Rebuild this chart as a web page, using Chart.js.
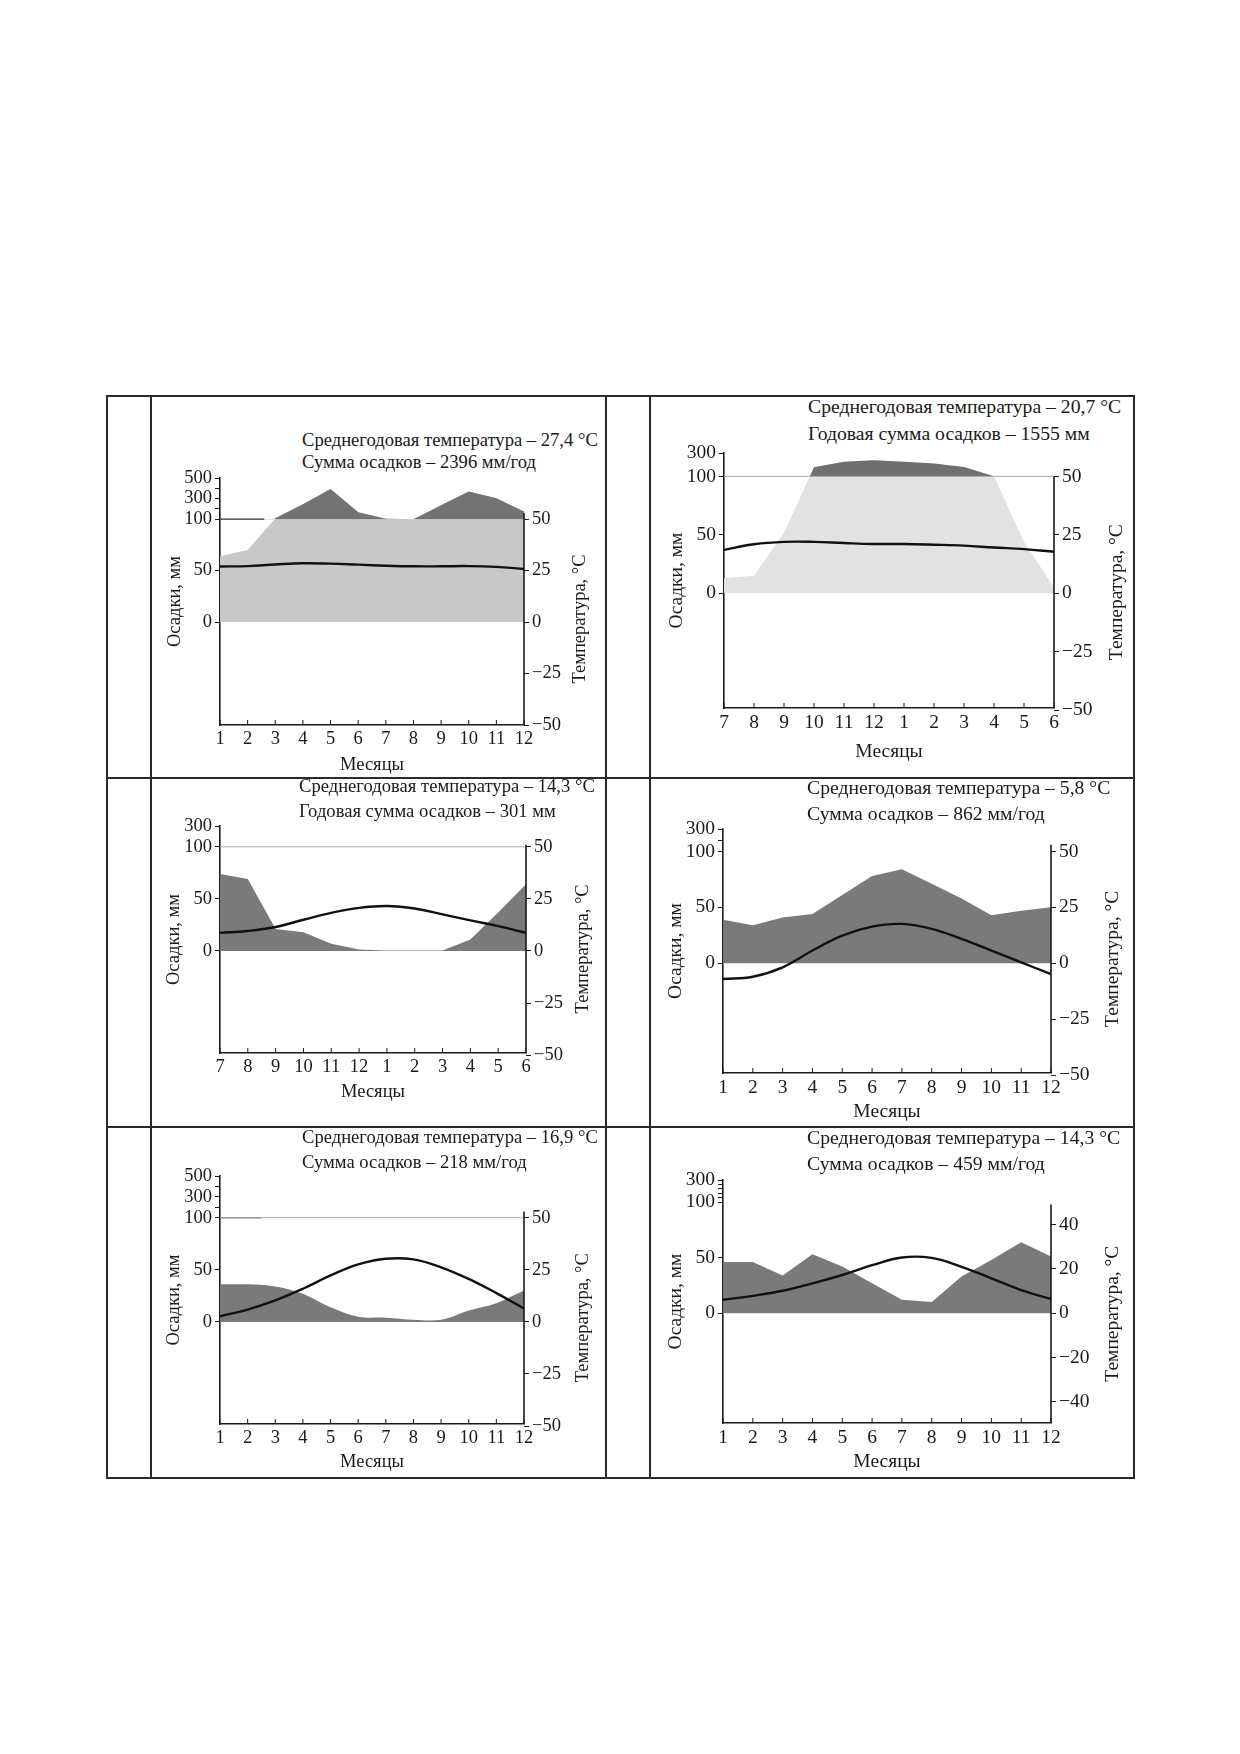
<!DOCTYPE html>
<html lang="ru">
<head>
<meta charset="utf-8">
<title>Климатограммы</title>
<script src="https://cdn.jsdelivr.net/npm/chart.js@4.4.1/dist/chart.umd.min.js"></script>
<style>
  html, body { margin: 0; padding: 0; background: #fff; }
  body { width: 1240px; height: 1754px; position: relative; font-family: 'Liberation Serif', 'Times New Roman', serif; color: #1a1a1a; }
  .rule { position: absolute; background: #2a2a2a; }
  .cap { position: absolute; white-space: nowrap; line-height: 24px; }
  canvas { position: absolute; }
</style>
</head>
<body>
<script>
// месяцы по оси X
var monthsJan = ['1', '2', '3', '4', '5', '6', '7', '8', '9', '10', '11', '12'];
var monthsJul = ['7', '8', '9', '10', '11', '12', '1', '2', '3', '4', '5', '6'];

// подписи шкал
var mmTicks500 = [0, 50, 100, 300, 500];
var mmTicks300 = [0, 50, 100, 300];
var tempTicks25 = [-50, -25, 0, 25, 50];
var tempTicks20 = [-40, -20, 0, 20, 40];

// 1: экваториальный
var caption1 = ['Среднегодовая температура – 27,4 °C', 'Сумма осадков – 2396 мм/год'];
var precip1 = [64, 70, 110, 246, 394, 168, 105, 100, 235, 369, 304, 174];
var temp1 = [27.0, 27.2, 28.0, 28.6, 28.4, 27.9, 27.4, 27.1, 27.1, 27.2, 26.8, 25.8];

// 2: с июля по июнь
var caption2 = ['Среднегодовая температура – 20,7 °C', 'Годовая сумма осадков – 1555 мм'];
var precip2 = [13, 15, 52, 178, 225, 238, 225, 210, 180, 102, 44, 5];
var temp2 = [18.6, 21.0, 22.0, 22.0, 21.5, 21.1, 21.1, 20.8, 20.4, 19.6, 18.9, 17.8];

// 3: с июля по июнь
var caption3 = ['Среднегодовая температура – 14,3 °C', 'Годовая сумма осадков – 301 мм'];
var precip3 = [74, 69, 21, 18, 7, 1.5, 0.5, 0.5, 0.5, 11, 37, 64];
var temp3 = [8.7, 9.6, 11.5, 15.0, 18.3, 20.7, 21.6, 20.4, 17.6, 14.7, 11.9, 8.7];

// 4
var caption4 = ['Среднегодовая температура – 5,8 °C', 'Сумма осадков – 862 мм/год'];
var precip4 = [39, 34, 41, 44, 61, 78, 84, 71, 58, 43, 47, 50];
var temp4 = [-7.0, -6.0, -1.8, 5.7, 12.4, 16.4, 17.6, 15.4, 10.9, 5.7, 0.4, -4.8];

// 5
var caption5 = ['Среднегодовая температура – 16,9 °C', 'Сумма осадков – 218 мм/год'];
var precip5 = [36, 36, 34, 27, 14, 5, 4, 2, 2, 11, 18, 30];
var temp5 = [2.7, 5.9, 10.3, 15.9, 22.3, 27.6, 30.3, 30.0, 26.2, 20.6, 13.8, 6.4];

// 6
var caption6 = ['Среднегодовая температура – 14,3 °C', 'Сумма осадков – 459 мм/год'];
var precip6 = [46, 46, 34, 53, 42, 27, 12, 10, 33, 48, 64, 51];
var temp6 = [6.0, 7.8, 10.1, 13.4, 17.2, 21.6, 25.1, 24.9, 20.9, 15.7, 10.4, 6.4];

// выше 100 мм масштаб осадков уменьшен в 10 раз (как у Вальтера-Лита)
function wl(p) {
    return p <= 100 ? p : 100 + (p - 100) / 10;
}

// рамка таблицы
var xs = [106, 150, 605, 649, 1133];
var ys = [395, 777, 1126, 1477];
ys.forEach(function (y) {
    var d = document.createElement('div');
    d.className = 'rule';
    d.style.cssText = 'left:106px;top:' + y + 'px;width:1029px;height:1.6px';
    document.body.appendChild(d);
});
xs.forEach(function (x) {
    var d = document.createElement('div');
    d.className = 'rule';
    d.style.cssText = 'left:' + x + 'px;top:395px;width:1.6px;height:1083px';
    document.body.appendChild(d);
});

var panels = [
    { months: monthsJan, precip: precip1, temp: temp1, caption: caption1, mm: mmTicks500, mmMinor: [200, 400], tt: tempTicks25,
      box: [150, 395, 455, 382], padTop: 83, yW: 70, yTW: 81, xH: 52, minU: -100, maxU: 140, fs: 18.5, capFs: 18.6,
      yTitlePad: 14, xTitlePad: 1, axisTop: 53, rOff: 56, cap: [302, 440, 462],
      light: '#c8c8c8', dark: '#737373', tension: 0, rules: [{ to: 1.6, color: '#333', width: 1.2 }] },
    { months: monthsJul, precip: precip2, temp: temp2, caption: caption2, mm: mmTicks300, mmMinor: [], tt: tempTicks25,
      box: [649, 395, 484, 382], padTop: 58, yW: 75, yTW: 79, xH: 69, minU: -98, maxU: 120, fs: 19.5, capFs: 19.7,
      yTitlePad: 16, xTitlePad: 13, axisTop: 50, rOff: 63, cap: [808, 406, 433],
      light: '#e2e2e2', dark: '#6f6f6f', tension: 0, rules: [{ to: 11, color: '#aaa', width: 1 }] },
    { months: monthsJul, precip: precip3, temp: temp3, caption: caption3, mm: mmTicks300, mmMinor: [], tt: tempTicks25,
      box: [150, 777, 455, 349], padTop: 49, yW: 70, yTW: 79, xH: 73, minU: -98, maxU: 120, fs: 18.5, capFs: 18.6,
      yTitlePad: 13, xTitlePad: 23, axisTop: 51, rOff: 57, cap: [299, 786, 811],
      dark: '#7a7a7a', tension: 0, rules: [{ to: 11, color: '#aaa', width: 1 }] },
    { months: monthsJan, precip: precip4, temp: temp4, caption: caption4, mm: mmTicks300, mmMinor: [200], tt: tempTicks25,
      box: [649, 777, 484, 349], padTop: 52, yW: 74, yTW: 82, xH: 53, minU: -98, maxU: 120, fs: 19.5, capFs: 19.7,
      yTitlePad: 15, xTitlePad: 2, axisTop: 53, rOff: 62, cap: [807, 787, 813],
      dark: '#7a7a7a', tension: 0, rules: [] },
    { months: monthsJan, precip: precip5, temp: temp5, caption: caption5, mm: mmTicks500, mmMinor: [200, 400], tt: tempTicks25,
      box: [150, 1126, 455, 351], padTop: 50, yW: 70, yTW: 81, xH: 53, minU: -98, maxU: 140, fs: 18.5, capFs: 18.6,
      yTitlePad: 13, xTitlePad: 4, axisTop: 53, rOff: 59, cap: [302, 1137, 1162],
      dark: '#7a7a7a', tension: 0.35, rules: [{ to: 11, color: '#aaa', width: 1 }, { to: 1.5, color: '#333', width: 1.3 }] },
    { months: monthsJan, precip: precip6, temp: temp6, caption: caption6, mm: mmTicks300, mmMinor: [140, 180, 220, 260], tt: tempTicks20,
      box: [649, 1126, 484, 351], padTop: 54, yW: 74, yTW: 82, xH: 54, minU: -99, maxU: 120, fs: 19.5, capFs: 19.7,
      yTitlePad: 15, xTitlePad: 3, axisTop: 49, rOff: 62, cap: [807, 1137, 1163],
      dark: '#7a7a7a', tension: 0, rules: [] }
];

Chart.defaults.font.family = "'Liberation Serif', 'Times New Roman', serif";
Chart.defaults.color = '#1a1a1a';

// правая ось (короче левой), засечки месяцев внутрь и подпись температуры
var extras = {
    id: 'extras',
    afterDraw: function (chart, args, opts) {
        var ctx = chart.ctx;
        var area = chart.chartArea;
        var yT = chart.scales.yT;
        var x = chart.scales.x;
        var top = yT.getPixelForValue(opts.axisTop);
        ctx.save();
        ctx.strokeStyle = '#1a1a1a';
        ctx.lineWidth = 1.6;
        ctx.beginPath();
        ctx.moveTo(area.right, top);
        ctx.lineTo(area.right, area.bottom);
        ctx.stroke();
        ctx.lineWidth = 1;
        x.ticks.forEach(function (t) {
            var px = x.getPixelForValue(t.value);
            ctx.beginPath();
            ctx.moveTo(px, area.bottom);
            ctx.lineTo(px, area.bottom - 5);
            ctx.stroke();
        });
        ctx.translate(area.right + opts.rOff, (top + area.bottom) / 2);
        ctx.rotate(-Math.PI / 2);
        ctx.font = opts.fs + "px 'Liberation Serif', serif";
        ctx.fillStyle = '#1a1a1a';
        ctx.textAlign = 'center';
        ctx.textBaseline = 'middle';
        ctx.fillText('Температура, °C', 0, 0);
        ctx.restore();
    }
};

function minus(v) {
    return v < 0 ? '\u2212' + Math.abs(v) : String(v);
}

panels.forEach(function (p) {
    // подписи над графиком
    p.caption.forEach(function (txt, i) {
        var d = document.createElement('div');
        d.className = 'cap';
        d.style.left = p.cap[0] + 'px';
        d.style.top = (p.cap[1 + i] - 12) + 'px';
        d.style.fontSize = p.capFs + 'px';
        d.textContent = txt;
        document.body.appendChild(d);
    });

    var cv = document.createElement('canvas');
    cv.width = p.box[2];
    cv.height = p.box[3];
    cv.style.left = p.box[0] + 'px';
    cv.style.top = p.box[1] + 'px';
    document.body.appendChild(cv);

    var rain = function () {
        return p.precip.map(function (v, i) { return { x: i, y: wl(v) }; });
    };
    var font = { size: p.fs };

    var datasets = [{
        data: p.temp.map(function (v, i) { return { x: i, y: v }; }),
        yAxisID: 'yT', borderColor: '#111', borderWidth: 2.4, tension: 0.4,
        pointRadius: 0, fill: false, order: 0
    }];
    p.rules.forEach(function (r) {
        datasets.push({
            data: [{ x: 0, y: 100 }, { x: r.to, y: 100 }],
            yAxisID: 'y', borderColor: r.color, borderWidth: r.width, pointRadius: 0, fill: false, order: 1
        });
    });
    if (p.light) {
        datasets.push({
            data: rain(), yAxisID: 'y', borderColor: 'rgba(0,0,0,0)', pointRadius: 0, tension: p.tension,
            fill: { target: { value: 100 }, above: p.dark, below: 'rgba(0,0,0,0)' }, order: 2
        });
        datasets.push({
            data: rain(), yAxisID: 'y', borderColor: 'rgba(0,0,0,0)', pointRadius: 0, tension: p.tension,
            fill: 'origin', backgroundColor: p.light, order: 3
        });
    } else {
        datasets.push({
            data: rain(), yAxisID: 'y', borderColor: 'rgba(0,0,0,0)', pointRadius: 0, tension: p.tension,
            fill: 'origin', backgroundColor: p.dark, order: 2
        });
    }

    var mmLabels = {};
    p.mm.forEach(function (v) { mmLabels[wl(v)] = String(v); });
    var mmAll = p.mm.concat(p.mmMinor).map(wl).sort(function (a, b) { return a - b; });

    new Chart(cv, {
        type: 'line',
        data: { datasets: datasets },
        plugins: [extras],
        options: {
            responsive: false,
            animation: false,
            layout: { padding: { top: p.padTop, left: 0, right: 0, bottom: 0 } },
            plugins: {
                legend: { display: false },
                tooltip: { enabled: false },
                extras: { axisTop: p.axisTop, rOff: p.rOff, fs: p.fs }
            },
            scales: {
                x: {
                    type: 'linear', min: 0, max: 11,
                    afterBuildTicks: function (s) { s.ticks = p.months.map(function (m, i) { return { value: i }; }); },
                    afterFit: function (s) { s.height = p.xH; },
                    ticks: { callback: function (v) { return p.months[v]; }, font: font, padding: 3, autoSkip: false, maxRotation: 0 },
                    grid: { display: true, drawOnChartArea: false, drawTicks: false },
                    border: { display: true, color: '#1a1a1a', width: 1.6 },
                    title: { display: true, text: 'Месяцы', font: font, padding: { top: 0, bottom: p.xTitlePad } }
                },
                y: {
                    position: 'left', min: p.minU, max: p.maxU,
                    afterBuildTicks: function (s) { s.ticks = mmAll.map(function (v) { return { value: v }; }); },
                    afterFit: function (s) { s.width = p.yW; },
                    ticks: { callback: function (v) { return mmLabels[v] !== undefined ? mmLabels[v] : ''; }, font: font, padding: 3 },
                    grid: { display: true, drawOnChartArea: false, drawTicks: true, tickLength: 5, color: '#1a1a1a' },
                    border: { display: true, color: '#1a1a1a', width: 1.6 },
                    title: { display: true, text: 'Осадки, мм', font: font, padding: { top: p.yTitlePad, bottom: 0 } }
                },
                yT: {
                    position: 'right', min: p.minU / 2, max: p.maxU / 2,
                    afterBuildTicks: function (s) { s.ticks = p.tt.map(function (v) { return { value: v }; }); },
                    afterFit: function (s) { s.width = p.yTW; },
                    ticks: { callback: minus, font: font, padding: 3 },
                    grid: { display: true, drawOnChartArea: false, drawTicks: true, tickLength: 5, color: '#1a1a1a' },
                    border: { display: false }
                }
            }
        }
    });
});
</script>
</body>
</html>
